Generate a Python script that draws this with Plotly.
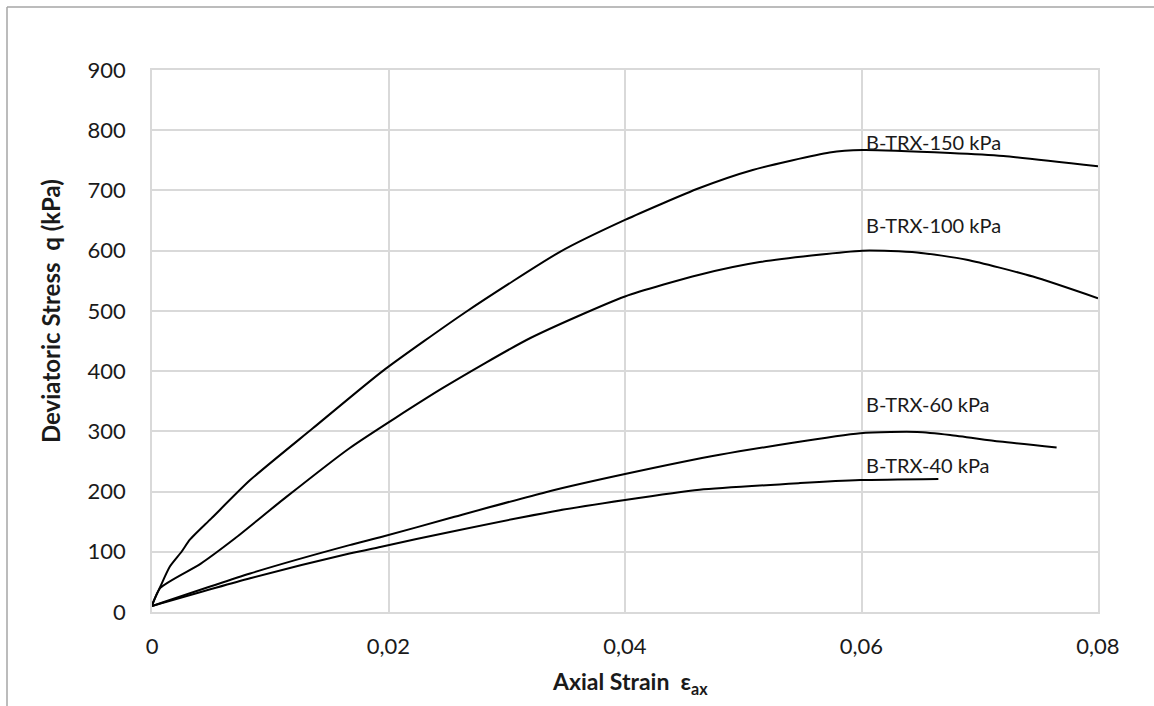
import plotly.graph_objects as go

# ---- data ----
strain_150 = [0, 0.0003, 0.0007, 0.0015, 0.0025, 0.0032, 0.005, 0.0083, 0.0136, 0.0195, 0.0266,
              0.0345, 0.04, 0.0463, 0.0508, 0.0573, 0.0601, 0.0675, 0.072, 0.08]
q_150 = [12, 25, 42, 75, 100, 120, 155, 219, 305, 400, 499,
         598, 651, 704, 734, 763, 767, 762, 757, 740]

strain_100 = [0, 0.0007, 0.0041, 0.007, 0.0111, 0.0167, 0.0246, 0.032, 0.04, 0.0463,
              0.0514, 0.0601, 0.0647, 0.0689, 0.0745, 0.08]
q_100 = [10, 40, 80, 122, 187, 272, 372, 455, 524, 560,
         581, 600, 597, 585, 557, 521]

strain_60 = [0, 0.0083, 0.0167, 0.0193, 0.0252, 0.0333, 0.04, 0.048, 0.0599, 0.0647, 0.0675,
             0.0717, 0.0765]
q_60 = [10, 64, 111, 124, 156, 199, 229, 261, 297, 299, 294, 283, 273]

strain_40 = [0, 0.0083, 0.0167, 0.0193, 0.0252, 0.0339, 0.04, 0.0463, 0.0548, 0.0599, 0.0665]
q_40 = [10, 56, 97, 108, 133, 167, 186, 203, 214, 219, 221]

series_names = ["B-TRX-150 kPa", "B-TRX-100 kPa", "B-TRX-60 kPa", "B-TRX-40 kPa"]
label_x = [0.0602, 0.0602, 0.0602, 0.0602]
label_y = [780, 643, 345, 244]

x_tickvals = [0, 0.02, 0.04, 0.06, 0.08]
x_ticktext = ["0", "0,02", "0,04", "0,06", "0,08"]
y_tickvals = [0, 100, 200, 300, 400, 500, 600, 700, 800, 900]

FONT = "Lato, 'Open Sans', sans-serif"
W, H = 1154, 706
ML, MR, MT, MB = 152, 56, 70, 94
PW, PH = W - ML - MR, H - MT - MB


def px_x(p):
    return (p - ML) / PW


def px_y(p):
    return (H - MB - p) / PH


fig = go.Figure()
for xs, ys, name in zip([strain_150, strain_100, strain_60, strain_40],
                        [q_150, q_100, q_60, q_40], series_names):
    fig.add_trace(go.Scatter(x=xs, y=ys, mode="lines", name=name,
                             line=dict(color="black", width=2, shape="spline", smoothing=0.6),
                             showlegend=False, hoverinfo="x+y+name"))

for name, lx, ly in zip(series_names, label_x, label_y):
    fig.add_annotation(x=lx, y=ly, xref="x", yref="y", text=name, showarrow=False,
                       xanchor="left", yanchor="middle",
                       font=dict(family=FONT, size=20, color="#1a1a1a"))

# axis titles
fig.add_annotation(x=px_x(630), y=px_y(682), xref="paper", yref="paper",
                   text="<b>Axial Strain  ε<sub>ax</sub></b>", showarrow=False,
                   xanchor="center", yanchor="middle",
                   font=dict(family=FONT, size=23, color="#1a1a1a"))
fig.add_annotation(x=px_x(50), y=px_y(311), xref="paper", yref="paper",
                   text="<b>Deviatoric Stress  q (kPa)</b>", showarrow=False, textangle=-90,
                   xanchor="center", yanchor="middle",
                   font=dict(family=FONT, size=24, color="#1a1a1a"))

# outer chart border (left and top visible)
bc = "#a6a6a6"
fig.add_shape(type="line", xref="paper", yref="paper",
              x0=px_x(7), x1=px_x(7), y0=px_y(7), y1=px_y(H + 5),
              line=dict(color=bc, width=1.5))
fig.add_shape(type="line", xref="paper", yref="paper",
              x0=px_x(7), x1=px_x(W + 5), y0=px_y(7), y1=px_y(7),
              line=dict(color=bc, width=1.5))

fig.update_layout(
    width=W, height=H,
    margin=dict(l=ML, r=MR, t=MT, b=MB, autoexpand=False),
    paper_bgcolor="white", plot_bgcolor="white",
    font=dict(family=FONT, size=22, color="#1a1a1a"),
)
fig.update_xaxes(range=[0, 0.08], tickvals=x_tickvals, ticktext=x_ticktext,
                 showgrid=True, gridcolor="#d9d9d9", gridwidth=1.5,
                 showline=True, linecolor="#d9d9d9", linewidth=1.5, mirror=True,
                 zeroline=False, ticks="", ticklabelstandoff=14,
                 tickfont=dict(family=FONT, size=22, color="#1a1a1a"))
fig.update_yaxes(range=[0, 900], tickvals=y_tickvals,
                 showgrid=True, gridcolor="#d9d9d9", gridwidth=1.5,
                 showline=True, linecolor="#d9d9d9", linewidth=1.5, mirror=True,
                 zeroline=False, ticks="", ticklabelstandoff=20,
                 tickfont=dict(family=FONT, size=22, color="#1a1a1a"))

fig.write_html("out.html", config={"displayModeBar": False},
               post_script="document.body.style.margin='0';document.body.style.overflow='hidden';")
